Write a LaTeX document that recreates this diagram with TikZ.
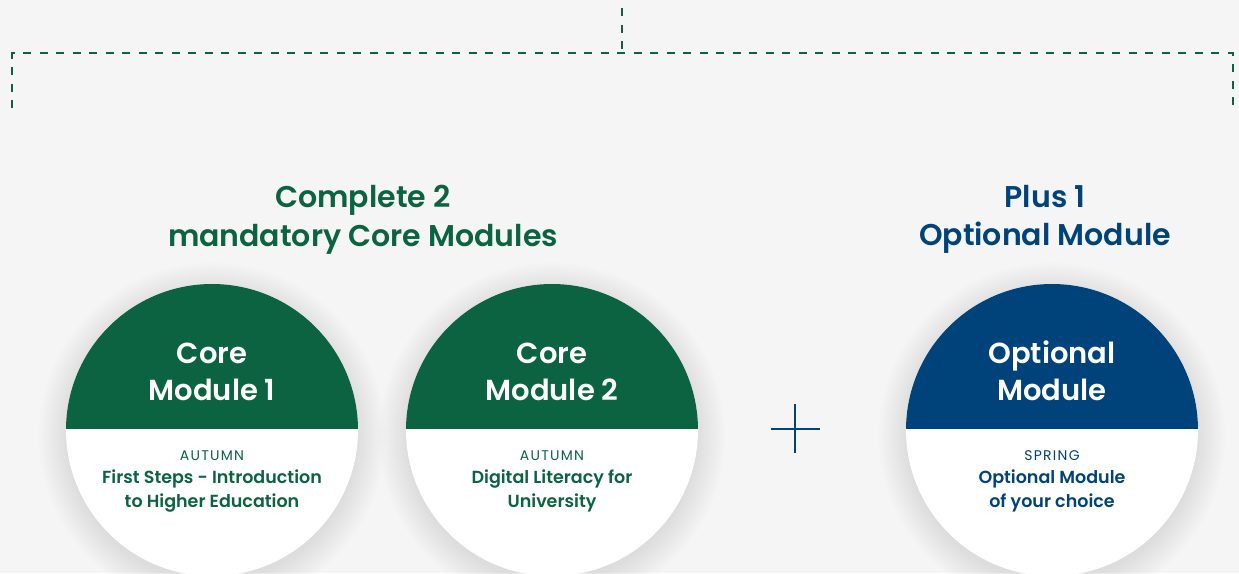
\documentclass[tikz,border=0pt]{standalone}
\usepackage{fontspec}
\setmainfont{Poppins}[BoldFont={Poppins SemiBold}]
\definecolor{bg}{HTML}{F5F5F5}
\definecolor{cgreen}{HTML}{0B6342}
\definecolor{cblue}{HTML}{00437B}
\tikzset{
  dashline/.style={draw=cgreen, line width=2pt, dash pattern=on 8pt off 8.5pt},
  title/.style={anchor=base, font=\bfseries\fontsize{30}{33}\selectfont, inner sep=0pt},
  head/.style={anchor=base, text=white, font=\bfseries\fontsize{29}{32}\selectfont, inner sep=0pt},
  season/.style={anchor=base, font=\addfontfeatures{LetterSpace=9}\fontsize{14}{16}\selectfont, inner sep=0pt},
  sub/.style={anchor=base, font=\bfseries\fontsize{17.5}{20}\selectfont, inner sep=0pt},
}
\newcommand{\modcircle}[3]{%
  \foreach \k in {1,...,12} {\fill[black, opacity=0.006] (#1,436) circle ({143+\k*2.5});}
  \fill[white] (#1,430) circle (146);
  \begin{scope}
    \clip (#1,430) circle (146);
    \fill[#2] (#1-150,280) rectangle (#1+150,429);
  \end{scope}
  \node[draw=none, minimum size=0pt, inner sep=0pt] (#3) at (#1,430) {};
}
\begin{document}
\begin{tikzpicture}[x=1pt, y=-1pt]
\fill[bg] (0,0) rectangle (1239,573);
\useasboundingbox (0,0) rectangle (1239,573);

% bracket
\coordinate (top) at (622,8);
\coordinate (mid) at (622,53);
\coordinate (bl) at (12,53);
\coordinate (br) at (1233,53);
\coordinate (bld) at (12,108);
\coordinate (brd) at (1233,108);
\draw[dashline] (top) -- (mid);
\draw[dashline] (bld) -- (bl) -- (br) -- (brd);

% titles
\node[title, text=cgreen] (t1) at (363,207) {Complete 2};
\node[title, text=cgreen] (t2) at (363,246) {mandatory Core Modules};
\node[title, text=cblue] (t3) at (1045,207) {Plus 1};
\node[title, text=cblue] (t4) at (1045,245) {Optional Module};

% circles
\modcircle{212}{cgreen}{c1}
\modcircle{552}{cgreen}{c2}
\modcircle{1052}{cblue}{c3}

\node[head] (h1a) at (212,363) {Core};
\node[head] (h1b) at (212,400) {Module 1};
\node[season, text=cgreen] (s1) at (212,460) {AUTUMN};
\node[sub, text=cgreen] (d1a) at (212,483) {First Steps - Introduction};
\node[sub, text=cgreen] (d1b) at (212,507) {to Higher Education};

\node[head] (h2a) at (552,363) {Core};
\node[head] (h2b) at (552,400) {Module 2};
\node[season, text=cgreen] (s2) at (552,460) {AUTUMN};
\node[sub, text=cgreen] (d2a) at (552,483) {Digital Literacy for};
\node[sub, text=cgreen] (d2b) at (552,507) {University};

\node[head] (h3a) at (1052,363) {Optional};
\node[head] (h3b) at (1052,400) {Module};
\node[season, text=cblue] (s3) at (1052,460) {SPRING};
\node[sub, text=cblue] (d3a) at (1052,483) {Optional Module};
\node[sub, text=cblue] (d3b) at (1052,507) {of your choice};

% plus
\coordinate (pl) at (771,429);
\coordinate (pr) at (820,429);
\coordinate (pt) at (795,404);
\coordinate (pb) at (795,453);
\draw[cblue, line width=2pt] (pl) -- (pr);
\draw[cblue, line width=2pt] (pt) -- (pb);
\end{tikzpicture}
\end{document}
